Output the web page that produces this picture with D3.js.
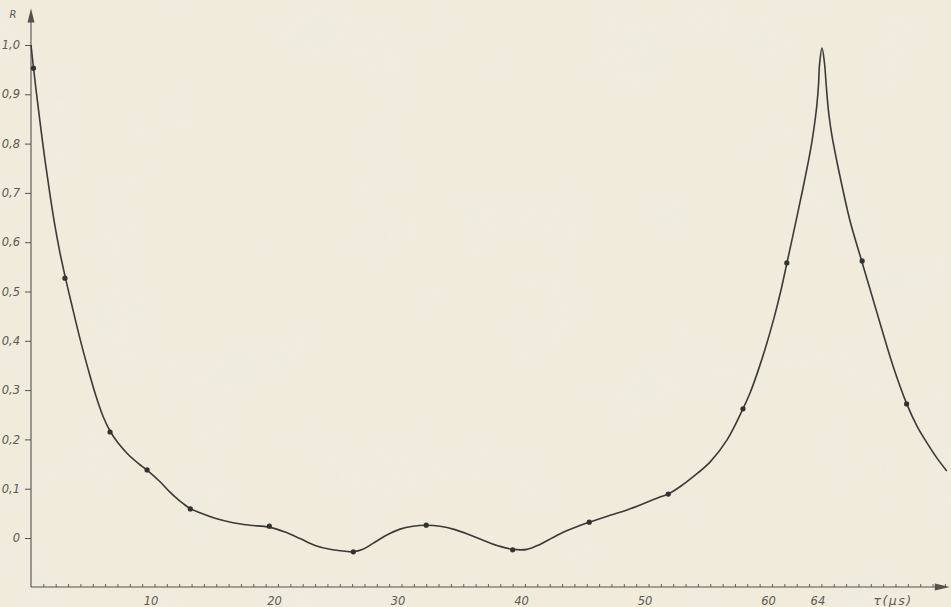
<!DOCTYPE html>
<html>
<head>
<meta charset="utf-8">
<script src="https://cdn.jsdelivr.net/npm/d3@7"></script>
<style>
  html, body { margin: 0; padding: 0; background: #efe9da; }
  svg { display: block; }
  .lbl { font-family: "DejaVu Sans", sans-serif; font-style: italic; fill: #5e5a52; }
</style>
</head>
<body>
<svg id="chart" width="951" height="607"></svg>
<script>
// Measured points (τ in µs, correlation R)
const dotTau = [0.2, 2.75, 6.4, 9.4, 12.9, 19.3, 26.1, 32.0, 39.0, 45.2, 51.6, 57.65, 61.2, 67.3, 70.9];
const dotR   = [0.953, 0.527, 0.215, 0.138, 0.059, 0.024, -0.028, 0.026, -0.024, 0.032, 0.089, 0.262, 0.558, 0.562, 0.272];

// Smoothed curve drawn through the measurements
const curveTau = [0, 0.16, 0.40, 0.73, 1.13, 1.54, 1.94, 2.35, 2.83, 3.32, 3.97, 4.62, 5.26, 5.83, 6.40, 7.04,
                  7.85, 8.66, 9.47, 10.45, 11.25, 12.06, 12.87, 13.68, 14.90, 16.36, 17.73, 19.27,
                  20.57, 21.78, 23.00, 24.21, 25.43, 26.07, 26.88, 27.69, 28.66, 29.88, 30.93, 31.98,
                  33.12, 34.33, 35.55, 36.76, 37.98, 39.03, 40.16, 41.21, 42.27, 43.32, 44.29, 45.18,
                  46.88, 48.26, 49.72, 50.93, 51.58, 52.55, 53.60, 54.98, 56.36, 57.65, 58.22, 58.87,
                  59.51, 60.16, 60.73, 61.21, 61.86, 62.51, 63.00, 63.24, 63.48, 63.64, 63.77, 63.85,
                  64.05, 64.26, 64.37, 64.49, 64.62, 64.86, 65.26, 65.69, 66.32, 67.26,
                  68.10, 68.91, 69.80, 70.91, 71.74, 72.55, 73.36, 74.15];
const curveR   = [1.000, 0.963, 0.911, 0.844, 0.767, 0.696, 0.633, 0.578, 0.523, 0.471, 0.404, 0.343, 0.288, 0.247, 0.217, 0.193,
                  0.170, 0.152, 0.136, 0.114, 0.093, 0.075, 0.060, 0.051, 0.040, 0.031, 0.026, 0.022,
                  0.012, -0.001, -0.015, -0.023, -0.027, -0.028, -0.023, -0.011, 0.004, 0.018, 0.024, 0.026,
                  0.024, 0.017, 0.006, -0.006, -0.017, -0.023, -0.023, -0.013, 0.001, 0.014, 0.024, 0.032,
                  0.046, 0.057, 0.071, 0.083, 0.089, 0.104, 0.124, 0.154, 0.199, 0.262, 0.294, 0.339,
                  0.389, 0.446, 0.503, 0.558, 0.633, 0.710, 0.771, 0.805, 0.846, 0.880, 0.921, 0.961,
                  0.994, 0.961, 0.925, 0.888, 0.856, 0.815, 0.763, 0.712, 0.643, 0.562,
                  0.491, 0.422, 0.349, 0.272, 0.227, 0.193, 0.162, 0.136];

// Axis ticks
const yTicks = [0, 0.1, 0.2, 0.3, 0.4, 0.5, 0.6, 0.7, 0.8, 0.9, 1.0];
const yTickLabels = ["0", "0,1", "0,2", "0,3", "0,4", "0,5", "0,6", "0,7", "0,8", "0,9", "1,0"];
const xTickLabels = [10, 20, 30, 40, 50, 60, 64];
const xMinorTicks = d3.range(1, 75);
const xAxisTitle = "τ(μs)";
const yAxisTitle = "R";

const svg = d3.select("#chart");

// Paper texture
const defs = svg.append("defs");
const f = defs.append("filter").attr("id", "paper").attr("x", 0).attr("y", 0).attr("width", "100%").attr("height", "100%");
f.append("feTurbulence").attr("type", "fractalNoise").attr("baseFrequency", 0.012).attr("numOctaves", 3).attr("seed", 7).attr("result", "n");
f.append("feColorMatrix").attr("in", "n").attr("type", "matrix")
  .attr("values", "0 0 0 0 0.80  0 0 0 0 0.84  0 0 0 0 0.86  0 0 0 -1.4 0.75");
svg.append("rect").attr("width", 951).attr("height", 607).attr("fill", "#f1ebdb");
svg.append("rect").attr("width", 951).attr("height", 607).attr("filter", "url(#paper)").attr("opacity", 0.35);

const x = d3.scaleLinear().domain([0, 70]).range([31, 31 + 70 * 12.35]);
const y = d3.scaleLinear().domain([0, 1]).range([538, 45]);

const axisColor = "#55524b";
const xEnd = 74.4;
const yBottom = 587;

// Axis lines with arrowheads
svg.append("line").attr("x1", x(0)).attr("x2", x(xEnd) - 6).attr("y1", yBottom).attr("y2", yBottom)
  .attr("stroke", axisColor).attr("stroke-width", 1.1);
svg.append("path")
  .attr("d", `M${x(xEnd)},${yBottom} l-15,-3.5 l0,7 z`).attr("fill", axisColor);
svg.append("line").attr("x1", x(0)).attr("x2", x(0)).attr("y1", yBottom).attr("y2", y(1.07) + 6)
  .attr("stroke", axisColor).attr("stroke-width", 1.1);
svg.append("path")
  .attr("d", `M${x(0)},${y(1.07) - 2} l-3.5,14 l7,0 z`).attr("fill", axisColor);

// Y axis ticks and labels
const yAxis = svg.append("g").attr("transform", `translate(${x(0)},0)`)
  .call(d3.axisLeft(y).tickValues(yTicks).tickSize(6).tickPadding(5)
    .tickFormat((d, i) => yTickLabels[i]));
yAxis.select(".domain").remove();
yAxis.selectAll("line").attr("stroke", axisColor);
yAxis.selectAll("text").attr("class", "lbl").attr("font-size", 11.5).attr("fill", "#5e5a52");

// X axis minor ticks
const xAxisMinor = svg.append("g").attr("transform", `translate(0,${yBottom})`)
  .call(d3.axisTop(x).tickValues(xMinorTicks).tickSize(3).tickFormat(""));
xAxisMinor.select(".domain").remove();
xAxisMinor.selectAll("line").attr("stroke", axisColor).attr("stroke-width", 0.9);

// X axis labels
const xAxisLab = svg.append("g").attr("transform", `translate(0,${yBottom})`)
  .call(d3.axisBottom(x).tickValues(xTickLabels).tickSize(0).tickPadding(10).tickFormat(d3.format("d")));
xAxisLab.select(".domain").remove();
xAxisLab.selectAll("text").attr("class", "lbl").attr("font-size", 11.5).attr("fill", "#5e5a52")
  .attr("dx", -4);

// Axis titles
svg.append("text").attr("class", "lbl").attr("x", x(69.8)).attr("y", 605)
  .attr("font-size", 12.5).attr("text-anchor", "middle").attr("letter-spacing", 1.5).text(xAxisTitle);
svg.append("text").attr("class", "lbl").attr("x", 13).attr("y", 18)
  .attr("font-size", 10).attr("text-anchor", "middle").text(yAxisTitle);

// Smoothed curve
const pts = curveTau.map((t, i) => [t, curveR[i]]);
const line = d3.line().x(d => x(d[0])).y(d => y(d[1])).curve(d3.curveCatmullRom.alpha(0.5));
svg.append("path").datum(pts).attr("d", line)
  .attr("fill", "none").attr("stroke", "#3b3a36").attr("stroke-width", 1.6).attr("stroke-linejoin", "round");

// Measured points
svg.append("g").selectAll("circle").data(dotTau).join("circle")
  .attr("cx", (t) => x(t)).attr("cy", (t, i) => y(dotR[i])).attr("r", 2.6)
  .attr("fill", "#34332f");
</script>
</body>
</html>
